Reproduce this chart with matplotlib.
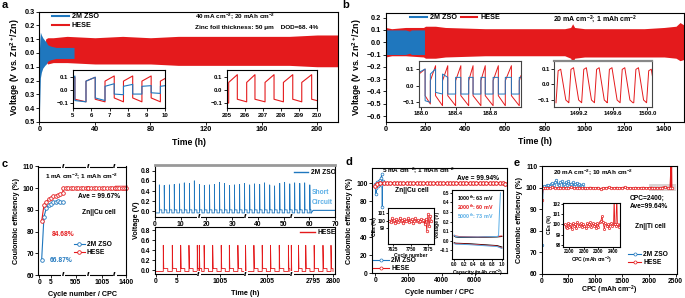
import numpy as np
import matplotlib
matplotlib.use('Agg')
import matplotlib.pyplot as plt
from matplotlib.lines import Line2D
from matplotlib.patches import Rectangle
import matplotlib.transforms as mtrans

plt.rcParams.update({
    'font.family': ['Liberation Sans', 'DejaVu Sans'],
    'font.weight': 'bold',
    'axes.labelweight': 'bold',
    'font.size': 5,
    'axes.linewidth': 0.8,
    'xtick.major.width': 0.6, 'ytick.major.width': 0.6,
    'xtick.major.size': 2, 'ytick.major.size': 2,
    'xtick.major.pad': 1.2, 'ytick.major.pad': 1.2,
    'mathtext.fontset': 'custom',
    'mathtext.rm': 'Liberation Sans:bold',
    'mathtext.it': 'Liberation Sans:bold',
    'mathtext.bf': 'Liberation Sans:bold',
    'mathtext.default': 'rm',
    'legend.frameon': False,
    'axes.formatter.useoffset': False,
})

BLUE = '#1F77BE'
RED = '#E41A1C'
LBLUE = '#5AAEE6'

# ------------------------------------------------------------------ data
# (a) 40 mA cm-2 ; 20 mAh cm-2 envelope of voltage profiles
a_red_t = [4.5, 6, 10, 20, 40, 60, 80, 100, 120, 140, 160, 180, 200, 215]
a_red_hi = [0.10, 0.11, 0.11, 0.12, 0.11, 0.12, 0.11, 0.12, 0.12, 0.12, 0.12, 0.12, 0.13, 0.13]
a_red_lo = [-0.06, -0.08, -0.07, -0.07, -0.08, -0.08, -0.08, -0.09, -0.09, -0.09, -0.09, -0.09, -0.10, -0.10]
a_blue_t = [0, 0.4, 0.8, 1.5, 2.5, 4, 5, 6, 8, 12, 18, 25]
a_blue_hi = [0.0, 0.10, 0.15, 0.13, 0.11, 0.09, 0.08, 0.06, 0.05, 0.04, 0.04, 0.04]
a_blue_lo = [0.0, -0.42, -0.18, -0.14, -0.11, -0.09, -0.08, -0.06, -0.05, -0.04, -0.04, -0.04]
a_yticks = [0.3, 0.2, 0.1, 0.0, -0.1, -0.2, -0.3, -0.4, -0.5]
a_yticklabels = ['0.3', '0.2', '0.1', '0.0', '0.1', '0.2', '0.3', '0.4', '0.5']
# inset a1 (5-10 h)
a1_edges = [5.0, 5.12, 5.72, 6.22, 6.75, 7.25, 7.75, 8.25, 8.75, 9.25, 9.75, 10.0]
a1_red_vs = [0.09, -0.07, 0.07, -0.07, 0.07, -0.06, 0.07, -0.06, 0.07, -0.06, 0.07]
a1_red_ve = [0.10, -0.09, 0.10, -0.09, 0.11, -0.09, 0.11, -0.09, 0.11, -0.09, 0.09]
a1_blue_vs = [0.09, -0.08, 0.07, -0.06, 0.03, -0.03, 0.03, -0.03, 0.03, -0.02, 0.03]
a1_blue_ve = [0.11, -0.09, 0.10, -0.08, 0.05, -0.035, 0.045, -0.03, 0.035, -0.025, 0.035]
# inset a2 (205-210 h)
a2_edges = [205.0, 205.11, 205.59, 206.11, 206.57, 207.13, 207.63, 208.15, 208.67, 209.17, 209.72, 210.0]
a2_red_vs = [-0.09, 0.06, -0.07, 0.06, -0.07, 0.06, -0.07, 0.06, -0.07, 0.06, -0.07]
a2_red_ve = [-0.10, 0.12, -0.09, 0.12, -0.09, 0.12, -0.09, 0.12, -0.09, 0.12, -0.08]

# (b) 20 mA cm-2 ; 1 mAh cm-2
b_red_t = [0, 30, 100, 190, 200, 250, 300, 400, 500, 600, 700, 800, 900, 930, 940, 950, 1000, 1100, 1200, 1300, 1400, 1460, 1480, 1500]
b_red_hi = [0.12, 0.11, 0.12, 0.12, 0.13, 0.13, 0.12, 0.115, 0.11, 0.11, 0.11, 0.11, 0.11, 0.12, 0.15, 0.12, 0.11, 0.11, 0.11, 0.11, 0.12, 0.13, 0.16, 0.14]
b_red_lo = [-0.12, -0.11, -0.11, -0.12, -0.13, -0.13, -0.12, -0.115, -0.11, -0.11, -0.11, -0.11, -0.11, -0.13, -0.17, -0.13, -0.12, -0.12, -0.12, -0.12, -0.12, -0.13, -0.15, -0.14]
b_blue_t = [0, 2, 5, 50, 100, 120, 130, 150, 170, 190, 195]
b_blue_hi = [0.15, 0.11, 0.10, 0.10, 0.10, 0.09, 0.10, 0.10, 0.10, 0.10, 0.10]
b_blue_lo = [-0.12, -0.11, -0.10, -0.10, -0.10, -0.09, -0.10, -0.10, -0.10, -0.10, -0.10]
b1_edges = [187.98, 188.05, 188.11, 188.17, 188.25, 188.31, 188.40, 188.46, 188.55, 188.60,
            188.69, 188.74, 188.83, 188.89, 188.97, 189.04, 189.13, 189.15]
b1_red_vs = [0.07, -0.06, 0.03, -0.06, 0.03, -0.06, 0.03, -0.06, 0.03, -0.06, 0.03, -0.06, 0.03, -0.06, 0.03, -0.06, 0.03]
b1_red_ve = [0.10, -0.11, 0.12, -0.12, 0.12, -0.12, 0.12, -0.12, 0.12, -0.12, 0.12, -0.12, 0.12, -0.12, 0.12, -0.12, 0.06]
b1_blue_vs = [0.08, -0.09, 0.07, -0.04, 0.07, -0.05, 0.05, -0.05, 0.05, -0.05, 0.05, -0.05, 0.05, -0.05, 0.05, -0.05, 0.05]
b1_blue_ve = [0.10, -0.10, 0.10, -0.05, 0.05, -0.05, 0.05, -0.05, 0.05, -0.05, 0.05, -0.05, 0.05, -0.05, 0.05, -0.05, 0.05]
b2_rise = [1498.93, 1499.08, 1499.23, 1499.38, 1499.53, 1499.68, 1499.84, 1499.99]
b2_top = [0.10, 0.11, 0.11, 0.11, 0.11, 0.11, 0.11, 0.10]
b2_bot = [-0.12, -0.12, -0.12, -0.12, -0.12, -0.12, -0.12, -0.12]
b2_xticks = [1499.2, 1499.6, 1500.0]

# (c) Zn||Cu CE, 1 mA cm-2 ; 1 mAh cm-2
c_hese_cyc = [1, 2, 3, 4, 5, 6, 7, 8, 9, 10, 500, 501, 502, 503, 504, 505, 506, 507, 508, 509, 510,
              1000, 1001, 1002, 1003, 1004, 1005, 1006, 1007, 1008, 1009, 1010, 1395, 1396, 1397, 1398, 1399, 1400]
c_hese_ce = [84.68, 92.3, 93.8, 94.9, 95.7, 96.2, 96.6, 96.9, 97.2, 97.7, 99.9, 100.0, 99.9, 100.0, 100.1, 99.9, 100.0, 100.0, 99.9, 100.0, 100.0,
             99.9, 100.0, 100.1, 99.9, 100.0, 100.0, 99.9, 100.0, 100.0, 99.9, 100.0, 100.0, 99.9, 100.0, 100.1, 99.9, 100.0]
c_zso_cyc = [1, 2, 3, 4, 5, 6, 7, 8, 9, 10]
c_zso_ce = [66.87, 86.9, 90.8, 92.3, 92.8, 93.5, 93.8, 94.2, 93.5, 93.5]
c_xticks = [0, 5, 505, 1005, 1400]
# voltage profiles (Zn||Cu) -- spike times (h) and heights (V)
c_zso_spk_t = [1.7, 3.6, 5.6, 7.5, 9.5, 11.4, 13.4, 15.3, 17.3, 19.2, 21.2, 23.1, 25.1, 27.0, 29.0, 30.9,
               32.9, 34.8, 36.8, 38.7, 40.7, 42.6, 44.6, 46.5, 48.5, 50.4, 52.4, 54.3, 56.3, 58.2, 60.2]
c_zso_spk_v = [0.52, 0.51, 0.52, 0.53, 0.54, 0.56, 0.55, 0.60, 0.53, 0.51, 0.52, 0.53, 0.57, 0.55, 0.51, 0.52,
               0.53, 0.55, 0.52, 0.54, 0.53, 0.56, 0.52, 0.50, 0.55, 0.57, 0.54, 0.56, 0.55, 0.56, 0.52]
c_zso_short_t = [61.5, 70]
c_zso_short_v = [0.02, 0.02]
c_hese_spk_t = [1.76, 3.94, 5.97, 7.97, 9.98, 1000.07, 1001.2, 1003.2, 1005.2, 1007.1, 1009.1, 1010.9,
                2001.9, 2003.9, 2005.9, 2008.0, 2010.2, 2010.9, 2791.4, 2793.2, 2795.3, 2797.5, 2799.5]
c_hese_spk_v = [0.50] * 23
c_vx_ticks = [0, 5, 1005, 2005, 2795, 2800]

# (d) Zn||Cu 5 mA cm-2 ; 1 mAh cm-2
d_zso_cyc = [10, 40, 70, 100, 130, 160, 200, 240, 280, 320, 350, 380, 400, 420, 440, 460]
d_zso_ce = [99, 88, 95, 99, 101, 97, 103, 100, 104, 98, 106, 110, 102, 74, 103, 100]
d_hese_cyc = [5, 100, 300, 500, 700, 900, 1100, 1300, 1500, 1700, 1900, 2100, 2300, 2500, 2700, 2900, 3100, 3300,
              3500, 3700, 3900, 4100, 4300, 4500, 4700, 4900, 5100, 5300, 5500, 5700, 5900, 6100, 6300, 6500,
              6700, 6900, 7100, 7300, 7500, 7700, 7850]
d_hese_ce = [96.5, 99.6, 100.2, 99.8, 100.1, 99.9, 100.2, 99.8, 100.0, 100.1, 99.9, 100.2, 99.8, 100.0, 99.9, 100.1,
             100.0, 99.8, 100.1, 99.9, 100.2, 100.0, 99.8, 100.1, 99.9, 100.0, 100.2, 99.8, 100.0, 100.1, 99.9, 100.0,
             100.2, 99.8, 100.0, 100.1, 99.9, 100.0, 100.2, 99.8, 99.5]
d1_cyc = [7600, 7608, 7616, 7624, 7632, 7640, 7648, 7656, 7664, 7672, 7680, 7688, 7696, 7704, 7712, 7720, 7728, 7736,
          7744, 7752, 7760, 7768, 7776, 7784, 7792, 7800, 7808, 7816, 7824, 7832, 7840, 7848, 7856, 7864, 7872, 7880, 7888, 7896]
d1_ce = [100.0, 99.8, 100.3, 99.9, 100.1, 99.7, 100.2, 100.0, 99.8, 100.4, 99.9, 100.1, 99.6, 100.2, 100.0, 99.9,
         100.3, 99.8, 100.1, 99.9, 100.2, 99.7, 100.0, 100.3, 99.9, 100.1, 99.8, 100.0, 100.2, 99.9, 100.1, 99.5,
         100.2, 98.6, 100.9, 99.2, 100.6, 100.0]
d2_cap_up = [0.0, 0.03, 0.1, 0.5, 0.9, 1.0]
d2_k_up = [0.05, 0.04, 0.035, 0.035, 0.04, 0.045]
d2_r_up = [0.055, 0.05, 0.045, 0.04, 0.045, 0.05]
d2_cap_bup = [0.0, 0.03, 0.1, 0.5, 0.9, 0.93, 0.95, 0.97]
d2_b_up = [0.06, 0.045, 0.04, 0.04, 0.045, 0.05, 0.3, 0.5]
d2_cap_lo = [0.0, 0.03, 0.3, 0.6, 0.9, 1.0]
d2_k_lo = [-0.02, -0.025, -0.03, -0.04, -0.05, -0.065]
d2_r_lo = [-0.025, -0.03, -0.035, -0.045, -0.055, -0.075]
d2_b_lo = [-0.03, -0.035, -0.04, -0.05, -0.06, -0.08]

# (e) Zn||Ti 20 mA cm-2 ; 10 mAh cm-2
e_zso_cpc = [0, 25, 50, 75, 100, 125, 150, 175, 200, 225, 250, 275, 300, 325, 350, 375, 400, 425, 450, 475,
             500, 525, 550, 575, 600, 625, 650, 675, 700, 725, 750, 775, 800]
e_zso_ce = [73.5, 100.5, 101.0, 100.8, 101.2, 101.5, 101.0, 101.8, 102.2, 101.5, 102.5, 103.8, 102.0, 101.5, 102.8,
            103.0, 101.2, 102.0, 102.6, 101.5, 103.2, 102.0, 101.8, 102.5, 101.0, 101.6, 102.4, 101.2, 102.0, 101.5,
            100.8, 101.6, 99.8]
e_hese_cpc = [0, 20, 60, 100, 150, 200, 250, 300, 350, 400, 450, 500, 550, 600, 650, 700, 750, 800, 850, 900, 950,
              1000, 1050, 1100, 1150, 1200, 1250, 1300, 1350, 1400, 1450, 1500, 1550, 1600, 1650, 1700, 1750, 1800,
              1850, 1900, 1950, 2000, 2050, 2100, 2150, 2200, 2250, 2300, 2350, 2400, 2420, 2425]
e_hese_ce = [94.5, 100.0, 99.8, 100.1, 99.9, 100.2, 99.8, 100.0, 100.1, 99.9, 100.0, 99.8, 100.2, 99.9, 100.0, 100.1,
             99.8, 100.0, 99.9, 100.1, 100.0, 99.8, 100.1, 99.5, 100.0, 99.9, 100.2, 100.0, 99.8, 100.1, 99.9, 100.0,
             100.2, 99.9, 100.0, 99.8, 100.1, 99.9, 100.0, 100.1, 99.9, 100.0, 100.1, 99.9, 100.0, 99.9, 100.1, 100.4,
             99.9, 100.0, 110.5, 100.0]
e1_cpc = [2070, 2078, 2086, 2094, 2102, 2110, 2118, 2126, 2134, 2142, 2150, 2158, 2166, 2174, 2182, 2190, 2198, 2206,
          2214, 2222, 2230, 2238, 2246, 2254, 2262, 2270, 2278, 2286, 2294, 2302, 2310, 2318, 2326, 2334, 2342, 2350,
          2358, 2366, 2374, 2382, 2390, 2398, 2406, 2410, 2414, 2422, 2428, 2432, 2440, 2448]
e1_ce = [100.0, 99.8, 99.7, 100.1, 99.8, 100.0, 99.6, 100.1, 99.9, 100.0, 99.7, 100.2, 99.9, 100.0, 100.1, 99.8,
         100.0, 99.9, 99.7, 100.1, 99.9, 100.0, 100.2, 99.8, 100.1, 99.9, 100.0, 99.7, 100.1, 99.8, 100.2, 100.3,
         100.8, 100.2, 99.6, 100.1, 99.9, 100.0, 99.7, 100.0, 100.1, 99.9, 100.0, 103.0, 100.0, 99.9, 103.0, 100.0,
         99.8, 100.0]

# ------------------------------------------------------------------ helpers
W, H = 685, 298
fig = plt.figure(figsize=(W / 100, H / 100), dpi=100)


def box(x0, y0, x1, y1):
    return [x0 / W, 1 - y1 / H, (x1 - x0) / W, (y1 - y0) / H]


def P(x, y):
    return (x / W, 1 - y / H)


def ftext(x, y, s, **kw):
    fig.text(x / W, 1 - y / H, s, **kw)


def wave(edges, vs, ve):
    t, v = [], []
    for i in range(len(vs)):
        t += [edges[i], edges[i + 1]]
        v += [vs[i], ve[i]]
    return t, v


def style(ax, fs=5.3):
    ax.tick_params(labelsize=fs, direction='out')
    for s in ax.spines.values():
        s.set_linewidth(0.8)


def brk(ax, x, ys=(0, 1), fs=5):
    tr = mtrans.blended_transform_factory(ax.transData, ax.transAxes)
    for y in ys:
        ax.text(x, y, '//', transform=tr, ha='center', va='center', fontsize=fs,
                clip_on=False, zorder=20,
                bbox=dict(fc='white', ec='none', pad=0.1))


# ------------------------------------------------------------------ panel a
ax = fig.add_axes(box(39.3, 11.5, 338, 122))
ax.fill_between(a_red_t, a_red_lo, a_red_hi, color=RED, lw=0)
ax.fill_between(a_blue_t, a_blue_lo, a_blue_hi, color=BLUE, lw=0)
ax.set_xlim(0, 215)
ax.set_ylim(-0.5, 0.3)
ax.set_xticks([0, 40, 80, 120, 160, 200])
ax.set_yticks(a_yticks)
ax.set_yticklabels(a_yticklabels)
style(ax)
ax.set_xlabel('Time (h)', fontsize=6.3, labelpad=3)
ax.set_ylabel('Voltage (V vs. Zn$^{2+}$/Zn)', fontsize=6.3, labelpad=2)
fig.legend([Line2D([], [], color=BLUE, lw=1.5), Line2D([], [], color=RED, lw=1.5)],
           ['2M ZSO', 'HESE'], loc='upper left', bbox_to_anchor=P(52, 13),
           fontsize=5.2, handlelength=2.3, handletextpad=0.4, labelspacing=0.3,
           borderpad=0, borderaxespad=0)
ftext(195, 17, '40 mA cm$^{-2}$; 20 mAh cm$^{-2}$', fontsize=4.6, va='center')
ftext(195, 28, 'Zinc foil thickness: 50 μm    DOD=68. 4%', fontsize=4.6, va='center')

ia = fig.add_axes(box(72.7, 70, 165, 108.3))
t, v = wave(a1_edges, a1_red_vs, a1_red_ve)
ia.plot(t, v, color=RED, lw=0.8)
t, v = wave(a1_edges, a1_blue_vs, a1_blue_ve)
ia.plot(t, v, color=BLUE, lw=0.8)
ia.set_xlim(5, 10)
ia.set_ylim(-0.14, 0.156)
ia.set_xticks([5, 6, 7, 8, 9, 10])
ia.set_yticks([-0.1, 0.0, 0.1])
style(ia, 4.3)

ia = fig.add_axes(box(226.7, 70, 316.7, 108.3))
t, v = wave(a2_edges, a2_red_vs, a2_red_ve)
ia.plot(t, v, color=RED, lw=0.8)
ia.set_xlim(205, 210)
ia.set_ylim(-0.14, 0.156)
ia.set_xticks([205, 206, 207, 208, 209, 210])
ia.set_yticks([-0.1, 0.0, 0.1])
style(ia, 4.3)

# ------------------------------------------------------------------ panel b
ax = fig.add_axes(box(385.7, 12.7, 684, 121.7))
ax.fill_between(b_red_t, b_red_lo, b_red_hi, color=RED, lw=0)
ax.plot([0.5, 0.5], [-0.37, 0.1], color=RED, lw=0.8)
ax.fill_between(b_blue_t, b_blue_lo, b_blue_hi, color=BLUE, lw=0)
ax.set_xlim(0, 1500)
ax.set_ylim(-0.646, 0.24)
ax.set_xticks([0, 200, 400, 600, 800, 1000, 1200, 1400])
ax.set_yticks([0.2, 0.1, 0.0, -0.1, -0.2, -0.3, -0.4, -0.5, -0.6])
style(ax)
ax.set_xlabel('Time (h)', fontsize=6.3, labelpad=3)
ax.set_ylabel('Voltage (V vs. Zn$^{2+}$/Zn)', fontsize=6.3, labelpad=2)
fig.legend([Line2D([], [], color=BLUE, lw=1.5), Line2D([], [], color=RED, lw=1.5)],
           ['2M ZSO', 'HESE'], loc='upper left', bbox_to_anchor=P(410, 14), ncol=2,
           fontsize=5.2, handlelength=2.3, handletextpad=0.4, columnspacing=0.6,
           borderpad=0, borderaxespad=0)
ftext(553, 19, '20 mA cm$^{-2}$; 1 mAh cm$^{-2}$', fontsize=5.0, va='center')

ib = fig.add_axes(box(419, 60.7, 521, 106.7))
t, v = wave(b1_edges, b1_red_vs, b1_red_ve)
ib.plot(t, v, color=RED, lw=0.7)
t, v = wave(b1_edges, b1_blue_vs, b1_blue_ve)
ib.plot(t, v, color=BLUE, lw=0.7)
ib.set_xlim(187.98, 189.15)
ib.set_ylim(-0.126, 0.15)
ib.set_xticks([188.0, 188.4, 188.8])
ib.set_xticklabels(['188.0', '188.4', '188.8'])
ib.set_yticks([-0.1, 0.0, 0.1])
style(ib, 4.3)
for s in ib.spines.values():
    s.set_color('#444')

ib = fig.add_axes(box(554.3, 60.7, 651.7, 106.7))
tt, vv = [], []
for r, tp, bt in zip(b2_rise, b2_top, b2_bot):
    tt += [r, r + 0.025, r + 0.055, r + 0.115, r + 0.15]
    vv += [bt, tp * 0.9, tp, bt * 0.85, bt]
ib.plot(tt, vv, color=RED, lw=0.7)
ib.set_xlim(1498.91, 1500.05)
ib.set_ylim(-0.146, 0.156)
ib.set_xticks(b2_xticks)
ib.set_xticklabels(['%.1f' % x for x in b2_xticks])
ib.set_yticks([-0.1, 0.0, 0.1])
style(ib, 4.3)
for s in ib.spines.values():
    s.set_color('#444')
ib.spines['top'].set_color('#888')
ib.spines['top'].set_linewidth(1.6)

# ------------------------------------------------------------------ panel c (CE)
c_xp = [0, 10.26, 500, 510, 1000, 1010, 1395, 1400]
c_fp = [1, 25, 25, 50, 50, 76.7, 76.7, 87.7]


def cmap(x):
    return np.interp(x, c_xp, c_fp)


ax = fig.add_axes(box(38.3, 166.5, 126, 275))
ax.add_patch(Rectangle((76.7, 98.5), 12.5, 3.0, fc=RED, alpha=0.25, ec='none', clip_on=False))
ax.plot(cmap(c_zso_cyc), c_zso_ce, '-o', color=BLUE, lw=0.8, ms=2.6, mfc='white', mew=0.6, clip_on=False)
ax.plot(cmap(c_hese_cyc), c_hese_ce, '-o', color=RED, lw=0.8, ms=2.6, mfc='white', mew=0.6, clip_on=False)
ax.set_xlim(0, 87.7)
ax.set_ylim(60, 110)
ax.set_xticks(cmap(c_xticks))
ax.set_xticklabels([str(c) for c in c_xticks])
ax.set_yticks([60, 70, 80, 90, 100, 110])
style(ax, 4.9)
for xb in [25, 50, 76.7]:
    brk(ax, xb, fs=4.5)
ax.set_xlabel('Cycle number / CPC', fontsize=5.2, labelpad=3.5)
ax.set_ylabel('Coulombic efficiency (%)', fontsize=5.2, labelpad=2)
ftext(45, 177, '1 mA cm$^{-2}$; 1 mAh cm$^{-2}$', fontsize=4.6, va='center')
ftext(78, 197, 'Ave = 99.67%', fontsize=4.8, va='center')
ftext(82, 212, 'Zn||Cu cell', fontsize=4.8, va='center')
ftext(52, 234, '84.68%', fontsize=4.8, va='center', color=RED)
ftext(50, 261, '66.87%', fontsize=4.8, va='center', color=BLUE)
fig.legend([Line2D([], [], color=BLUE, lw=0.8, marker='o', ms=2.6, mfc='white', mew=0.6),
            Line2D([], [], color=RED, lw=0.8, marker='o', ms=2.6, mfc='white', mew=0.6)],
           ['2M ZSO', 'HESE'], loc='upper left', bbox_to_anchor=P(74, 241),
           fontsize=4.8, handlelength=1.6, handletextpad=0.3, labelspacing=0.15,
           borderpad=0, borderaxespad=0)

# ------------------------------------------------------------------ panel c (voltage)
def spikes(ts, hs, lo=-0.03, hi=0.03):
    t, v = [0], [lo]
    for i, (a, h) in enumerate(zip(ts, hs)):
        nxt = ts[i + 1] if i + 1 < len(ts) else a + 1.0
        mid = (a + nxt) / 2
        t += [a, a, a + 0.12, mid, mid]
        v += [lo, h, hi, hi, lo]
    return t, v


axt = fig.add_axes(box(155, 165, 335, 217))
t, v = spikes(c_zso_spk_t, c_zso_spk_v)
axt.plot(t, v, color=BLUE, lw=0.6)
axt.plot([t[-1]] + c_zso_short_t, [v[-1]] + c_zso_short_v, color=BLUE, lw=0.8)
axt.set_xlim(0, 70)
axt.set_ylim(-0.11, 0.91)
axt.set_xticks([0, 10, 20, 30, 40, 50, 60, 70])
axt.set_yticks([0.0, 0.2, 0.4, 0.6, 0.8])
style(axt, 4.9)
axt.spines['top'].set_color('#999')
axt.spines['top'].set_linewidth(2.0)
for xb in [17.2, 35.4, 53.2]:
    brk(axt, xb, ys=(0,), fs=4.5)
axt.legend([Line2D([], [], color=BLUE, lw=1.0)], ['2M ZSO'], loc='upper right',
           bbox_to_anchor=P(336, 169), bbox_transform=fig.transFigure, fontsize=4.8,
           handlelength=2.2, handletextpad=0.4, borderpad=0, borderaxespad=0)
ftext(312, 192, 'Short', fontsize=4.8, color=LBLUE, va='center')
ftext(312, 202, 'Circuit', fontsize=4.8, color=LBLUE, va='center')

v_xp = [0, 10.4, 1000, 1011, 2000, 2011, 2789.7, 2800]
v_fp = [1, 44, 44, 91, 91, 136.7, 136.7, 178]


def vmap(x):
    return np.interp(x, v_xp, v_fp)


axb = fig.add_axes(box(155, 227, 335, 274))
t, v = spikes(c_hese_spk_t, c_hese_spk_v)
t = [min(x, 2800) for x in t]
axb.plot(vmap(t), v, color=RED, lw=0.6)
axb.set_xlim(0, 180)
axb.set_ylim(-0.08, 0.87)
axb.set_xticks(vmap(c_vx_ticks))
axb.set_xticklabels([str(c) for c in c_vx_ticks])
axb.set_yticks([0.0, 0.2, 0.4, 0.6, 0.8])
style(axb, 4.9)
for xb in [44, 91, 136.7]:
    brk(axb, xb, ys=(0,), fs=4.5)
axb.set_xlabel('Time (h)', fontsize=5.2, labelpad=3)
axb.legend([Line2D([], [], color=RED, lw=1.0)], ['HESE'], loc='upper right',
           bbox_to_anchor=P(336, 229), bbox_transform=fig.transFigure, fontsize=4.8,
           handlelength=2.2, handletextpad=0.4, borderpad=0, borderaxespad=0)
ftext(137, 220, 'Voltage (V)', fontsize=5.2, rotation=90, ha='center', va='center')

# ------------------------------------------------------------------ panel d
ax = fig.add_axes(box(372, 168, 507, 273))
ax.plot(d_zso_cyc, d_zso_ce, '-o', color=BLUE, lw=0.7, ms=2.0, mfc='white', mew=0.5)
ax.plot(d_hese_cyc, d_hese_ce, '-o', color=RED, lw=1.6, ms=2.6, mfc='white', mew=0.7)
ax.set_xlim(-200, 7950)
ax.set_ylim(0, 117)
ax.set_xticks([0, 2000, 4000, 6000])
ax.set_yticks([0, 20, 40, 60, 80, 100])
style(ax, 4.9)
ax.set_xlabel('Cycle number / CPC', fontsize=5.2, labelpad=3)
ax.set_ylabel('Coulombic efficiency (%)', fontsize=5.2, labelpad=2)
ftext(382, 171, '5 mA cm$^{-2}$; 1 mAh cm$^{-2}$', fontsize=4.6, va='center')
ftext(457, 179, 'Ave = 99.94%', fontsize=4.8, va='center')
ftext(395, 190, 'Zn||Cu cell', fontsize=4.8, va='center')
ax.legend([Line2D([], [], color=BLUE, lw=0.8, marker='o', ms=2.2, mfc='white', mew=0.5),
           Line2D([], [], color=RED, lw=0.8, marker='o', ms=2.2, mfc='white', mew=0.5)],
          ['2M ZSO', 'HESE'], loc='lower left', bbox_to_anchor=P(373, 272),
          bbox_transform=fig.transFigure, fontsize=4.8, handlelength=2.4,
          handletextpad=0.3, labelspacing=0.15, borderpad=0, borderaxespad=0)

i1 = fig.add_axes(box(388, 208.3, 434, 244.3))
i1.plot(d1_cyc, d1_ce, '-o', color=RED, lw=0.6, ms=1.8, mfc='white', mew=0.5)
i1.set_xlim(7590, 7915)
i1.set_ylim(96.7, 101.7)
i1.set_xticks([7625, 7750, 7875])
i1.set_yticks([99, 100, 101])
style(i1, 3.3)
i1.tick_params(length=1.2, pad=0.8)
i1.set_xlabel('Cycle number', fontsize=3.6, labelpad=0.5)
i1.set_ylabel('CEs (%)', fontsize=3.6, labelpad=0.5)

i2 = fig.add_axes(box(452.3, 190, 503.3, 259))
i2.plot(d2_cap_up, d2_k_up, color='black', lw=0.7)
i2.plot(d2_cap_lo, d2_k_lo, color='black', lw=0.7)
i2.plot(d2_cap_up, d2_r_up, color=RED, lw=0.7)
i2.plot(d2_cap_lo, d2_r_lo, color=RED, lw=0.7)
i2.plot(d2_cap_bup, d2_b_up, color=LBLUE, lw=0.7)
i2.plot(d2_cap_lo, d2_b_lo, color=LBLUE, lw=0.7)
i2.set_xlim(-0.04, 1.03)
i2.set_ylim(-0.19, 0.53)
i2.set_xticks([0.0, 0.2, 0.4, 0.6, 0.8, 1.0])
i2.set_yticks([-0.1, 0.0, 0.1, 0.2, 0.3, 0.4, 0.5])
style(i2, 3.3)
i2.tick_params(length=1.2, pad=0.8)
i2.set_xlabel('Capacity (mAh cm$^{-2}$)', fontsize=3.6, labelpad=0.5)
i2.set_ylabel('Voltage (V)', fontsize=3.6, labelpad=0.5)
i2.text(0.05, 0.44, '1000$^{th}$: 63 mV', fontsize=3.9, color='black', va='center')
i2.text(0.05, 0.345, '2000$^{th}$: 60 mV', fontsize=3.9, color=RED, va='center')
i2.text(0.05, 0.25, '5000$^{th}$: 73 mV', fontsize=3.9, color=LBLUE, va='center')

# ------------------------------------------------------------------ panel e
ax = fig.add_axes(box(541.7, 166.3, 676.7, 274))
ax.add_patch(Rectangle((2000, 98.4), 500, 3.4, fc='#B0A0A0', alpha=0.45, ec='none'))
ax.plot(e_zso_cpc, e_zso_ce, '-o', color=BLUE, lw=0.7, ms=1.8, mfc='white', mew=0.5)
ax.plot(e_hese_cpc, e_hese_ce, '-o', color=RED, lw=1.2, ms=1.8, mfc='white', mew=0.5)
ax.set_xlim(0, 2520)
ax.set_ylim(60, 110)
ax.set_xticks([0, 500, 1000, 1500, 2000, 2500])
ax.set_yticks([60, 70, 80, 90, 100, 110])
style(ax, 4.9)
ax.set_xlabel('CPC (mAh cm$^{-2}$)', fontsize=5.0)
ax.xaxis.set_label_coords(0.5, -0.093)
ax.set_ylabel('Coulombic efficiency (%)', fontsize=5.2, labelpad=2)
ftext(553, 173, '20 mA cm$^{-2}$; 10 mAh cm$^{-2}$', fontsize=4.6, va='center')
ftext(630, 198, 'CPC=2400;', fontsize=4.8, va='center')
ftext(630, 207, 'Ave=99.64%', fontsize=4.8, va='center')
ftext(635, 227, 'Zn||Ti cell', fontsize=4.8, va='center')
ax.legend([Line2D([], [], color=BLUE, lw=0.8, marker='o', ms=2.2, mfc='white', mew=0.5),
           Line2D([], [], color=RED, lw=0.8, marker='o', ms=2.2, mfc='white', mew=0.5)],
          ['2M ZSO', 'HESE'], loc='upper left', bbox_to_anchor=P(628, 251),
          bbox_transform=fig.transFigure, fontsize=4.8, handlelength=2.0,
          handletextpad=0.3, labelspacing=0.15, borderpad=0, borderaxespad=0)

ie = fig.add_axes(box(563.3, 203.3, 620, 246.7))
ie.plot(e1_cpc, e1_ce, '-o', color=RED, lw=0.6, ms=1.6, mfc='white', mew=0.5)
ie.set_xlim(2061, 2450)
ie.set_ylim(97.8, 102.1)
ie.set_xticks([2100, 2200, 2300, 2400])
ie.set_yticks([98, 99, 100, 101, 102])
style(ie, 3.3)
ie.tick_params(length=1.2, pad=0.8)
ie.set_xlabel('CPC (mAh cm$^{-2}$)', fontsize=3.6, labelpad=0.5)
ie.set_ylabel('CEs (%)', fontsize=3.6, labelpad=0.5)

# ------------------------------------------------------------------ panel letters
for lx, ly, s in [(2, 5, 'a'), (342, 5, 'b'), (2, 164, 'c'), (345, 162, 'd'), (514, 163, 'e')]:
    ftext(lx, ly, s, fontsize=8, fontweight='bold', va='center')

fig.savefig('out.png', dpi=100)
